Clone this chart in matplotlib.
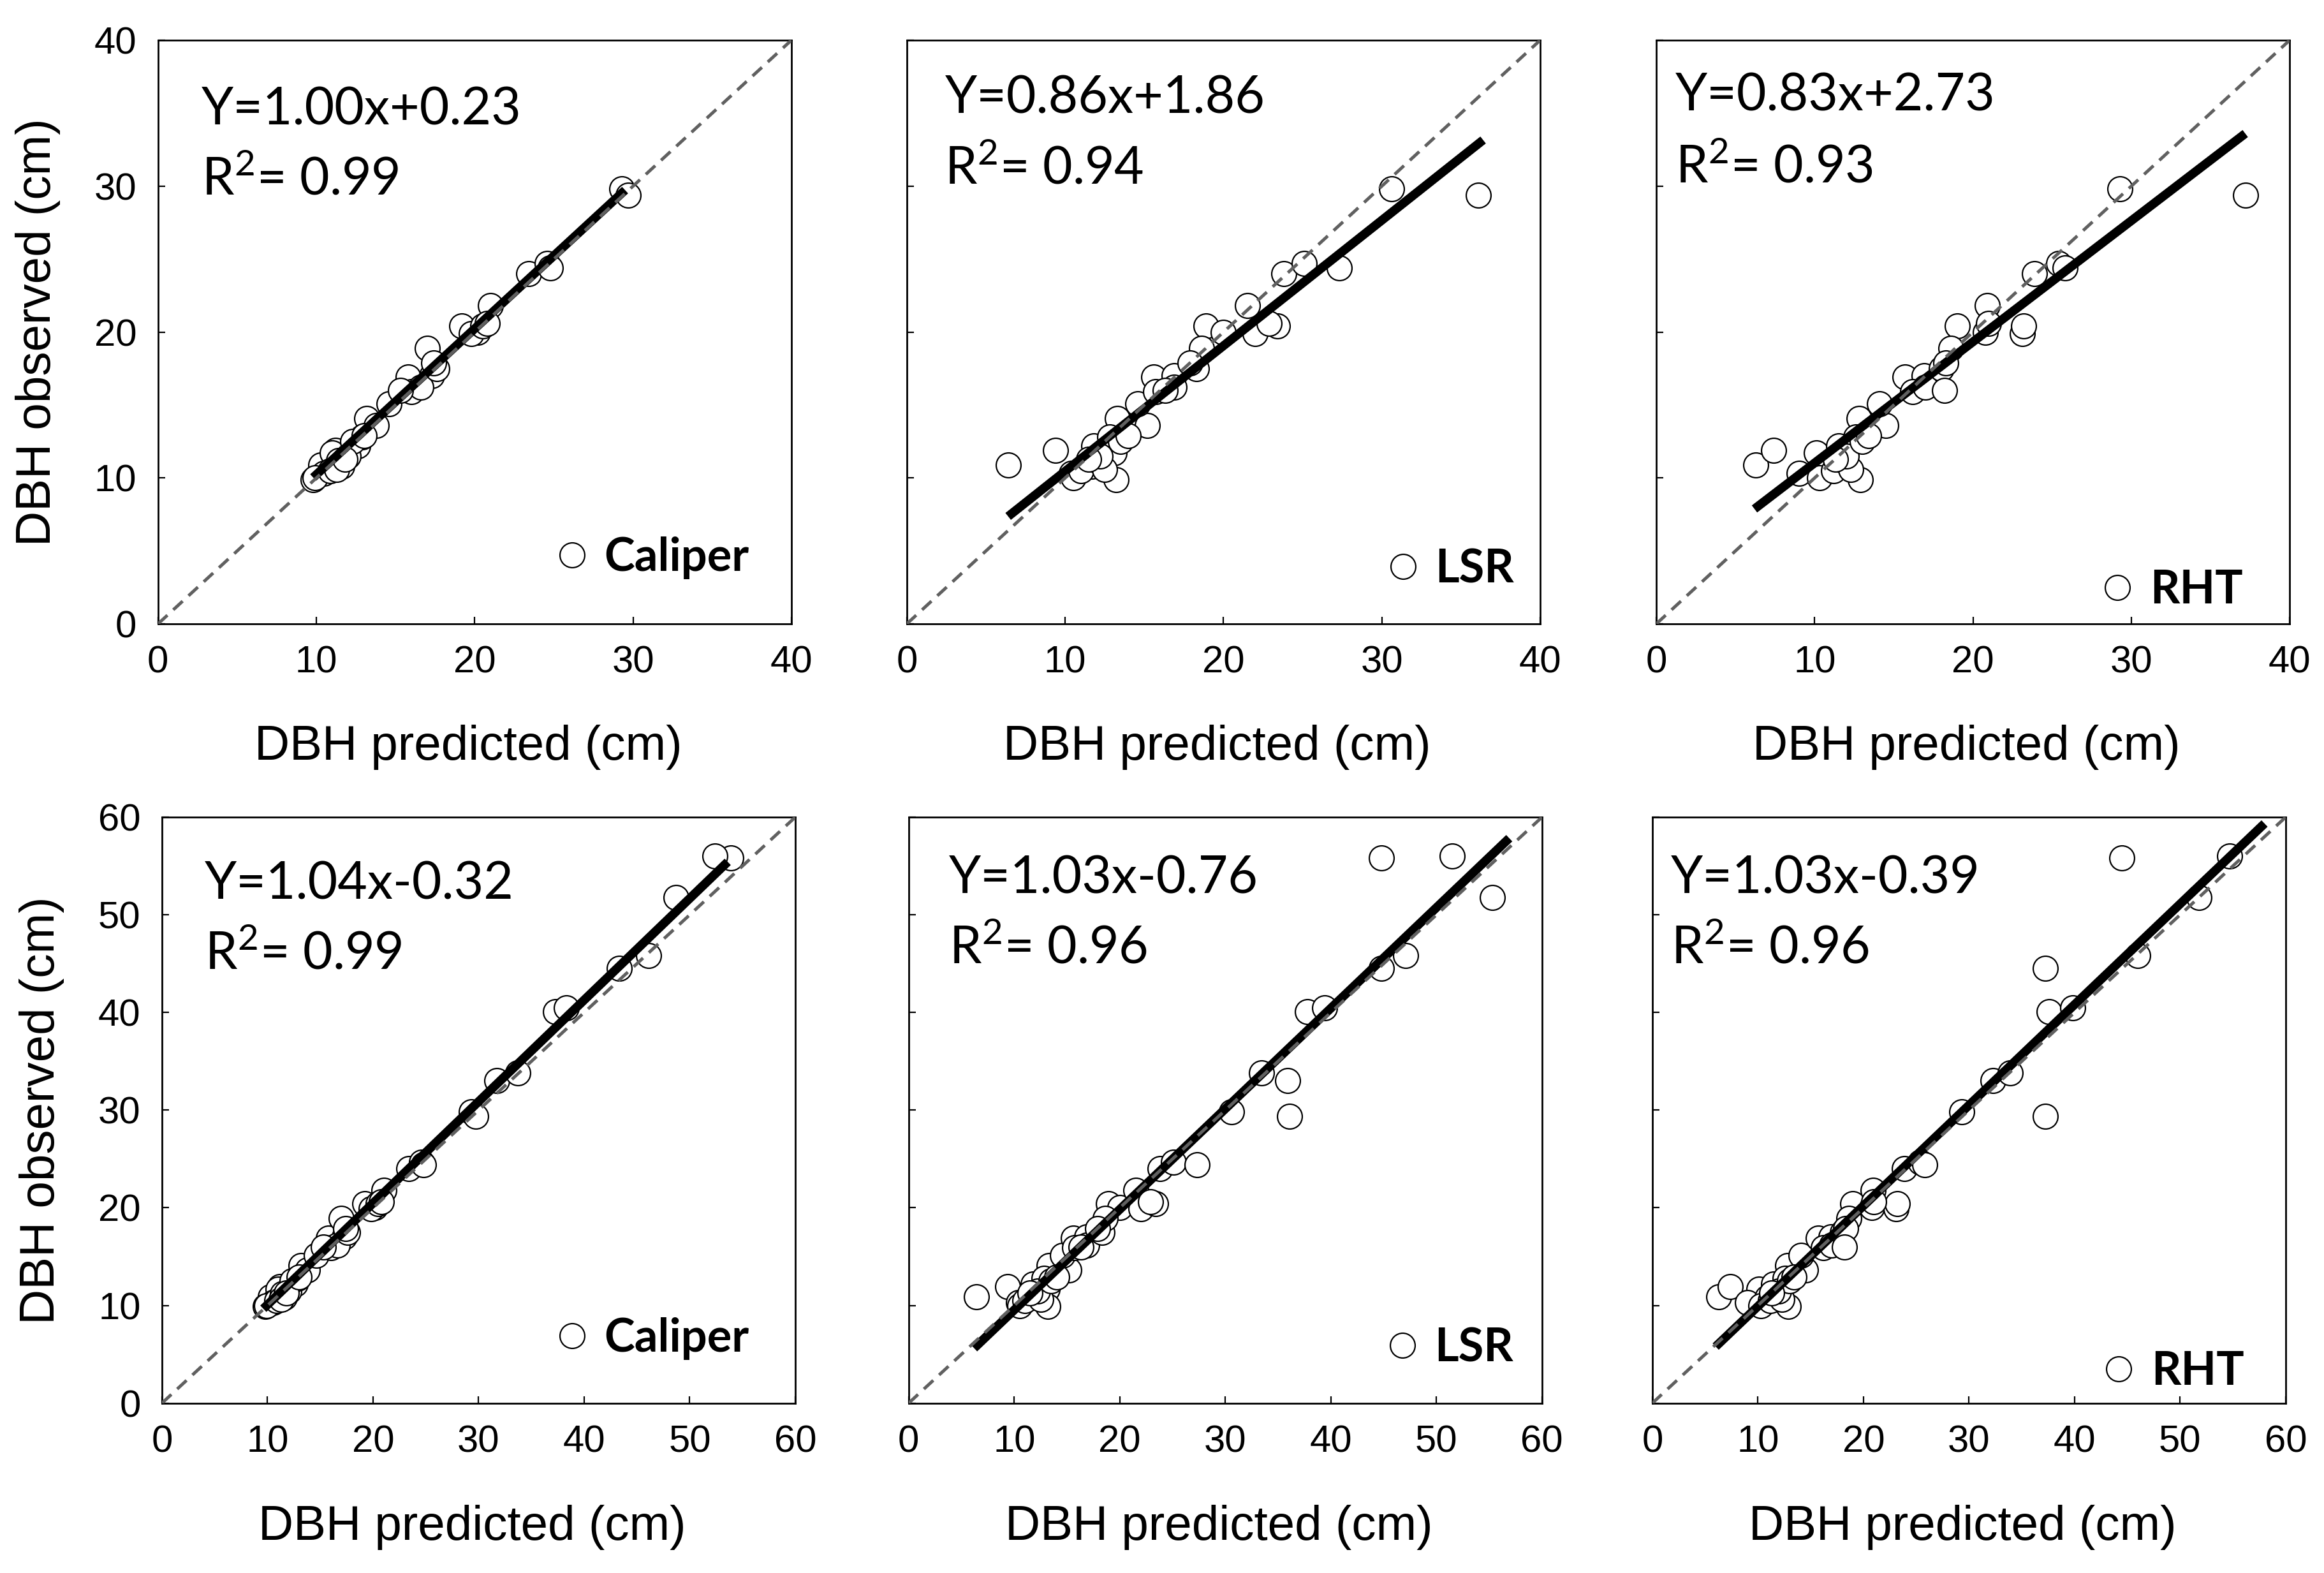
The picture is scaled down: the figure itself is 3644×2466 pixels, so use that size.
import matplotlib
matplotlib.use("Agg")
import matplotlib.pyplot as plt

# Data ===========================================
# small trees (top row); predicted DBH by each method
obs_small = [10.9, 11.9, 11.7, 10.3, 12.2, 10.8, 9.9, 14.1, 13.6, 15.1,
             16.9, 17.0, 15.9, 16.2, 17.5, 20.4, 20.0, 21.8, 19.9, 20.4,
             20.6, 24.0, 24.7, 24.4, 29.8, 29.4, 18.9, 17.9, 16.0, 10.0,
             10.5, 11.2, 10.6, 12.8, 11.5, 12.5, 11.3, 12.9]
cal_small = [10.3, 11.2, 11.0, 10.5, 12.6, 11.6, 9.8, 13.2, 13.8, 14.6,
             15.8, 17.3, 16.0, 16.6, 17.6, 19.2, 20.2, 21.0, 19.8, 20.5,
             20.8, 23.4, 24.6, 24.8, 29.3, 29.7, 17.0, 17.4, 15.3, 9.9,
             10.9, 11.4, 11.3, 12.9, 12.0, 12.3, 11.8, 13.0]
lsr_small = [6.4, 9.4, 13.1, 10.4, 11.8, 11.7, 13.2, 13.3, 15.2, 14.6,
             15.6, 16.9, 15.7, 16.9, 18.3, 18.9, 20.0, 21.5, 22.0, 23.4,
             22.9, 23.8, 25.1, 27.3, 30.6, 36.1, 18.6, 17.9, 16.3, 10.5,
             11.0, 12.0, 12.5, 12.8, 12.2, 13.5, 11.5, 14.0]
rht_small = [6.3, 7.4, 10.1, 9.0, 11.5, 10.9, 12.9, 12.8, 14.5, 14.1,
             15.7, 16.9, 16.2, 17.0, 18.0, 19.0, 20.8, 20.9, 23.1, 23.2,
             21.0, 23.9, 25.4, 25.8, 29.3, 37.2, 18.6, 18.3, 18.2, 10.3,
             11.2, 11.8, 12.3, 12.6, 12.0, 13.0, 11.3, 13.4]

# large trees (added in bottom row)
obs_large = [33.0, 33.8, 40.1, 40.5, 44.5, 45.8, 51.8, 55.8, 56.0]
cal_large = [31.7, 33.7, 37.3, 38.3, 43.3, 46.1, 48.7, 53.9, 52.4]
lsr_large = [35.9, 33.4, 37.8, 39.4, 44.8, 47.1, 55.3, 44.8, 51.5]
rht_large = [32.3, 33.9, 37.6, 39.8, 37.2, 46.0, 51.8, 44.5, 54.7]

methods = ['Caliper', 'LSR', 'RHT']
slopes_top = [1.00, 0.86, 0.83]
inter_top = [0.23, 1.86, 2.73]
r2_top = [0.99, 0.94, 0.93]
slopes_bot = [1.04, 1.03, 1.03]
inter_bot = [-0.32, -0.76, -0.39]
r2_bot = [0.99, 0.96, 0.96]
fit_x_top = [(9.8, 29.5), (6.4, 36.4), (6.2, 37.2)]
fit_x_bot = [(9.6, 53.6), (6.2, 56.9), (6.0, 58.0)]

# Layout =========================================
plt.rcParams['mathtext.fontset'] = 'custom'
plt.rcParams['mathtext.rm'] = 'Lato'
fig = plt.figure(figsize=(18.22, 12.33), dpi=200)

ax_pos = [[0.068, 0.6034, 0.2725, 0.371], [0.3902, 0.6034, 0.2725, 0.371],
          [0.7127, 0.6034, 0.2725, 0.371],
          [0.0697, 0.108, 0.2725, 0.3725], [0.391, 0.108, 0.2725, 0.3725],
          [0.711, 0.108, 0.2725, 0.3725]]
eq_pos = [(0.069, 0.88, 0.762), (0.06, 0.90, 0.78), (0.03, 0.904, 0.782),
          (0.067, 0.885, 0.767), (0.064, 0.895, 0.777), (0.029, 0.895, 0.777)]
leg_pos = [(0.933, 0.113), (0.959, 0.093), (0.926, 0.057),
           (0.927, 0.11), (0.955, 0.093), (0.934, 0.053)]

preds_small = [cal_small, lsr_small, rht_small]
preds_large = [cal_large, lsr_large, rht_large]

for k in range(6):
    row, col = divmod(k, 3)
    ax = fig.add_axes(ax_pos[k])
    if row == 0:
        xs = preds_small[col]
        ys = obs_small
        lim = 40
        a, b, r2 = slopes_top[col], inter_top[col], r2_top[col]
        fx = fit_x_top[col]
    else:
        xs = preds_small[col] + preds_large[col]
        ys = obs_small + obs_large
        lim = 60
        a, b, r2 = slopes_bot[col], inter_bot[col], r2_bot[col]
        fx = fit_x_bot[col]

    ax.plot(xs, ys, 'o', ms=14, mfc='white', mec='black', mew=0.8,
            label=methods[col], zorder=2)
    ax.plot([fx[0], fx[1]], [a * fx[0] + b, a * fx[1] + b], color='black',
            lw=5, solid_capstyle='butt', zorder=3)
    ax.plot([0, lim], [0, lim], color='#606060', lw=1.8,
            dashes=(4, 2.5), zorder=4)

    ax.set_xlim(0, lim)
    ax.set_ylim(0, lim)
    ax.set_xticks(range(0, lim + 1, 10))
    ax.set_yticks(range(0, lim + 1, 10))
    ax.tick_params(direction='in', length=4, width=0.8, labelsize=21.5,
                   pad=12)
    for lab in ax.get_xticklabels() + ax.get_yticklabels():
        lab.set_family('Liberation Sans')
    if col != 0:
        ax.set_yticklabels([])
    for s in ax.spines.values():
        s.set_linewidth(1.0)

    ax.set_xlabel('DBH predicted (cm)', fontsize=27.5, family='Liberation Sans')
    ax.xaxis.label.set_va('center')
    ax.xaxis.set_label_coords(0.49, -0.212)
    if col == 0:
        ax.set_ylabel('DBH observed (cm)', fontsize=27.5,
                      family='Liberation Sans')
        ax.yaxis.label.set_va('center')
        ax.yaxis.set_label_coords(-0.19, 0.5)

    ex, ey1, ey2 = eq_pos[k]
    sign = '+' if b >= 0 else '-'
    ax.text(ex, ey1, f'Y={a:.2f}x{sign}{abs(b):.2f}', transform=ax.transAxes,
            fontsize=29, family='Lato', va='center', ha='left')
    ax.text(ex, ey2, f'R$^2$= {r2:.2f}', transform=ax.transAxes,
            fontsize=29, family='Lato', va='center', ha='left')

    ax.legend(loc='center right', bbox_to_anchor=leg_pos[k], frameon=False,
              numpoints=1, handlelength=0.9, handletextpad=0.25,
              borderpad=0, borderaxespad=0,
              prop={'family': 'Lato', 'weight': 'bold', 'size': 26})

fig.savefig('out.png', dpi=200, facecolor='white')
